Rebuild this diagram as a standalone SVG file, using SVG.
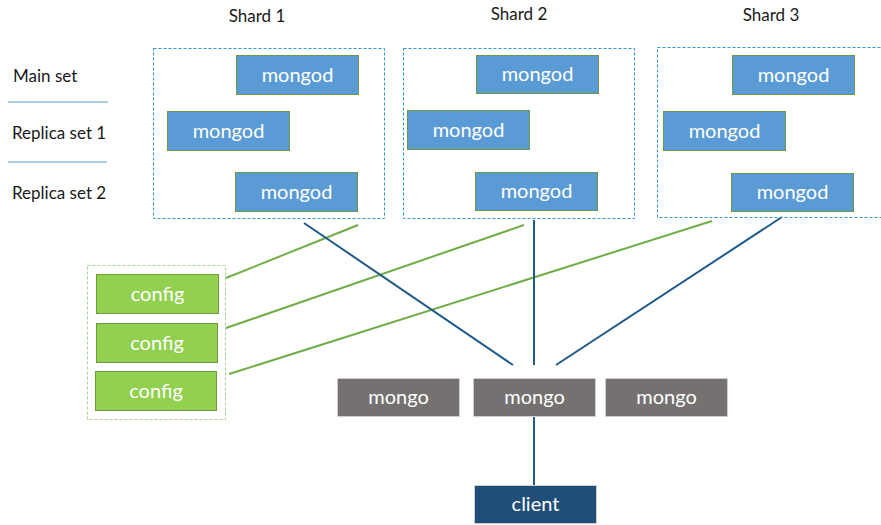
<svg xmlns="http://www.w3.org/2000/svg" width="881" height="525" viewBox="0 0 881 525">
<style>
text{font-family:Lato,"Liberation Sans",sans-serif;}
.lbl{font-size:17px;fill:#1a1a1a;}
.btxt{font-size:20px;fill:#fff;text-anchor:middle;dominant-baseline:central;}
.mongod{fill:#5B9BD5;stroke:#6A9A45;stroke-width:1;}
.config{fill:#92D050;stroke:#6E9C3A;stroke-width:1;}
.mongo{fill:#767171;stroke:#D0CECE;stroke-width:1;}
.client{fill:#1F4E79;stroke:#D0CECE;stroke-width:1;}
.shard{fill:none;stroke:#2E96D0;stroke-width:1;stroke-dasharray:3,2;}
.cfgbox{fill:none;stroke:#A9D18E;stroke-width:1;stroke-dasharray:3,2;}
.sep{stroke:#5B9BD5;stroke-width:1;}
.g{stroke:#70AD47;stroke-width:2;fill:none;}
.b{stroke:#1F5A8A;stroke-width:2;fill:none;}
</style>
<rect width="881" height="525" fill="#fff"/>
<g id="row-labels">
<text class="lbl" x="13" y="82">Main set</text>
<line class="sep" x1="8" y1="102" x2="108" y2="102"/>
<text class="lbl" x="12" y="139">Replica set 1</text>
<line class="sep" x1="8" y1="162" x2="107" y2="162"/>
<text class="lbl" x="12" y="199">Replica set 2</text>
</g>
<g id="connectors">
<line class="g" x1="226" y1="278" x2="358" y2="225"/>
<line class="g" x1="226" y1="328" x2="524" y2="225"/>
<line class="g" x1="229" y1="374" x2="712" y2="221"/>
<line class="b" x1="304" y1="223" x2="513" y2="365"/>
<line class="b" x1="534" y1="220" x2="534" y2="365"/>
<line class="b" x1="782" y1="217" x2="556" y2="365"/>
<line class="b" x1="534" y1="416" x2="534" y2="485"/>
</g>
<g id="shard1">
<text class="lbl" x="257" y="22" text-anchor="middle">Shard 1</text>
<rect class="shard" x="153.5" y="48.5" width="231" height="170"/>
<rect class="mongod" x="236.5" y="55.5" width="122" height="39"/>
<text class="btxt" x="297.5" y="73.5">mongod</text>
<rect class="mongod" x="167.5" y="111.5" width="122" height="39"/>
<text class="btxt" x="228.5" y="129.5">mongod</text>
<rect class="mongod" x="235.5" y="172.5" width="122" height="39"/>
<text class="btxt" x="296.5" y="190.5">mongod</text>
</g>
<g id="shard2">
<text class="lbl" x="519" y="20" text-anchor="middle">Shard 2</text>
<rect class="shard" x="403.5" y="48.5" width="231" height="170"/>
<rect class="mongod" x="476.5" y="55.5" width="122" height="38"/>
<text class="btxt" x="537.5" y="73">mongod</text>
<rect class="mongod" x="407.5" y="110.5" width="122" height="39"/>
<text class="btxt" x="468.5" y="128.5">mongod</text>
<rect class="mongod" x="475.5" y="172.5" width="122" height="38"/>
<text class="btxt" x="536.5" y="190">mongod</text>
</g>
<g id="shard3">
<text class="lbl" x="771" y="21" text-anchor="middle">Shard 3</text>
<rect class="shard" x="657.5" y="47.5" width="240" height="170"/>
<rect class="mongod" x="732.5" y="55.5" width="122" height="39"/>
<text class="btxt" x="793.5" y="73.5">mongod</text>
<rect class="mongod" x="663.5" y="111.5" width="122" height="39"/>
<text class="btxt" x="724.5" y="129.5">mongod</text>
<rect class="mongod" x="731.5" y="173.5" width="122" height="38"/>
<text class="btxt" x="792.5" y="191">mongod</text>
</g>
<g id="configs">
<rect class="cfgbox" x="87.5" y="265.5" width="138" height="154"/>
<rect class="config" x="96.5" y="274.5" width="122" height="39"/>
<text class="btxt" x="157.5" y="292.5">config</text>
<rect class="config" x="96.5" y="323.5" width="121" height="39"/>
<text class="btxt" x="157" y="341.5">config</text>
<rect class="config" x="95.5" y="371.5" width="121" height="39"/>
<text class="btxt" x="156" y="389.5">config</text>
</g>
<g id="mongo1">
<rect class="mongo" x="337.5" y="378.5" width="122" height="38"/>
<text class="btxt" x="398.5" y="396">mongo</text>
</g>
<g id="mongo2">
<rect class="mongo" x="473.5" y="378.5" width="122" height="38"/>
<text class="btxt" x="534.5" y="396">mongo</text>
</g>
<g id="mongo3">
<rect class="mongo" x="605.5" y="378.5" width="122" height="38"/>
<text class="btxt" x="666.5" y="396">mongo</text>
</g>
<g id="client">
<rect class="client" x="474.5" y="485.5" width="122" height="38"/>
<text class="btxt" x="535.5" y="503">client</text>
</g>
</svg>
